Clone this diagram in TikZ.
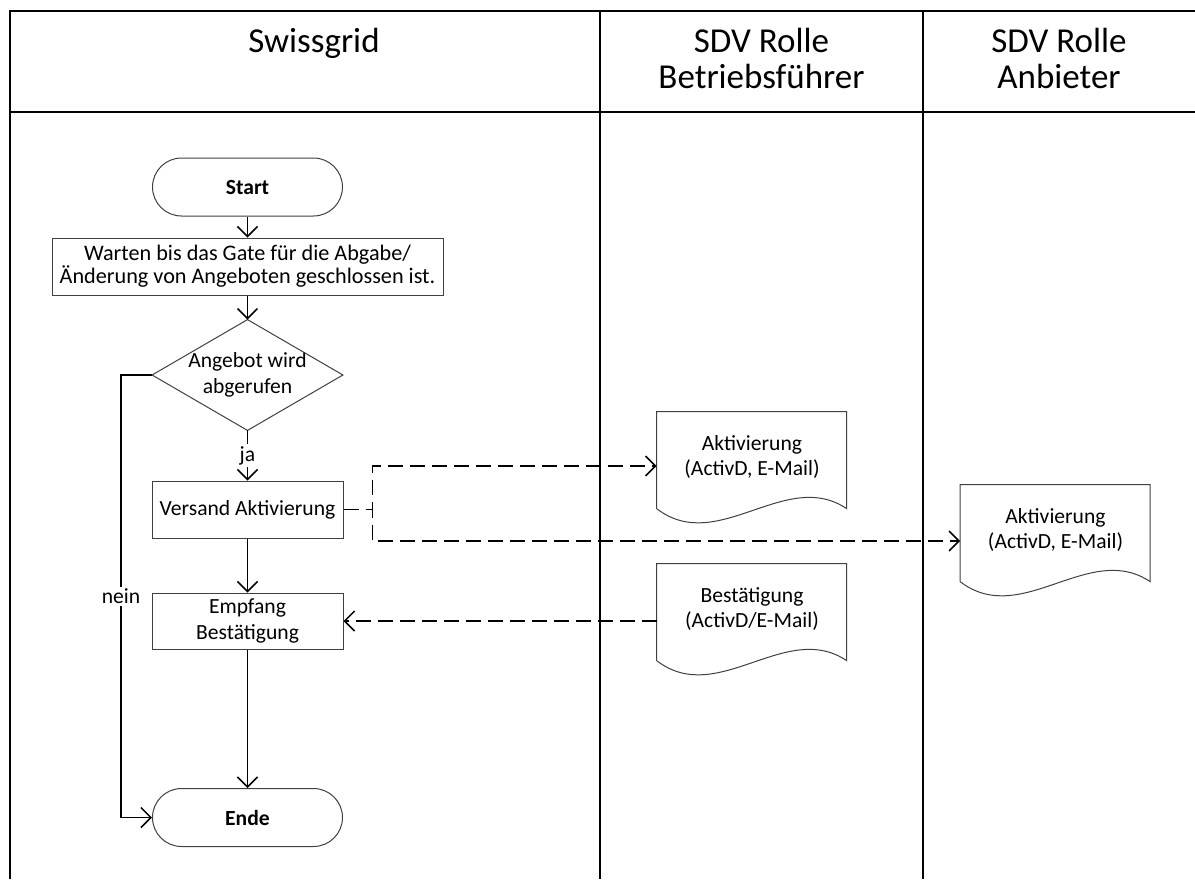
\documentclass[tikz,border=0pt]{standalone}
\usepackage{fontspec}
\setmainfont{Carlito}
\usetikzlibrary{arrows.meta,calc}
\begin{document}
\begin{tikzpicture}[x=0.5pt,y=-0.5pt,
  bodyfont/.style={font=\fontsize{10.8}{12.8}\selectfont},
  shapeline/.style={draw=black!75, line width=0.5pt},
  box/.style={shapeline, bodyfont, minimum width=95.5pt, minimum height=28.5pt, inner sep=1pt, align=center},
  term/.style={box, rounded corners=14.5pt, minimum width=95pt, minimum height=29pt, font=\fontsize{10.8}{12.8}\selectfont\bfseries},
  dia/.style={bodyfont, minimum width=95pt, minimum height=55pt, inner sep=0pt, align=center},
  doc/.style={bodyfont, minimum width=95pt, minimum height=45pt, inner sep=0pt, align=center},
  head/.style={font=\fontsize{17.5}{18}\selectfont, inner sep=0pt, anchor=base},
  tab/.style={line width=1pt, black},
  conn/.style={line width=0.75pt, black, -{Straight Barb[length=5pt,width=10pt]}},
  dconn/.style={conn, dash pattern=on 7.5pt off 3.5pt},
  lab/.style={bodyfont, fill=white, inner sep=1pt},
  docoutline/.style={shapeline}
]
\useasboundingbox (0,0) rectangle (1195,879);
% table
\draw[tab] (10,879) -- (10,11) -- (1195,11);
\draw[tab] (10,112) -- (1195,112);
\draw[tab] (600,11) -- (600,879);
\draw[tab] (923,11) -- (923,879);
% headers
\node[head] (hsg) at (314,52) {Swissgrid};
\node[head] (hbf1) at (761.5,52) {SDV Rolle};
\node[head] (hbf2) at (761.5,88) {Betriebsführer};
\node[head] (han1) at (1059,52) {SDV Rolle};
\node[head] (han2) at (1059,88) {Anbieter};
% flow nodes
\node[term] (start) at (247.5,187) {Start};
\node[box, minimum width=195.5pt, font=\fontsize{11.1}{11.6}\selectfont] (wait) at (247.5,266.5) {Warten bis das Gate für die Abgabe/\\Änderung von Angeboten geschlossen ist.};
\node[dia] (dec) at (247.5,375) {Angebot wird\\abgerufen};
\draw[shapeline] (dec.north) -- (dec.east) -- (dec.south) -- (dec.west) -- cycle;
\node[box] (send) at (247.5,509.5) {Versand Aktivierung};
\node[box, minimum height=28pt] (recv) at (247.5,621) {Empfang\\Bestätigung};
\node[term] (end) at (247.5,817.5) {Ende};
% documents
\node[doc] (d1) at (752,457) {Aktivierung\\(ActivD, E-Mail)};
\node[doc] (d2) at (1055.5,530) {Aktivierung\\(ActivD, E-Mail)};
\node[doc] (d3) at (752,609) {Bestätigung\\(ActivD/E-Mail)};
\foreach \d in {d1,d2,d3}{
  \draw[docoutline, shift={(\d.north west)}] (0,97) -- (0,0) -- (190,0) -- (190,97) .. controls (129,56) and (61,144) .. (0,97);
}
% connectors
\draw[conn] (start.south) -- (wait.north);
\draw[conn] (wait.south) -- (dec.north);
\draw[conn] (dec.south) -- node[lab] {ja} (send.north);
\draw[conn] (send.south) -- (recv.north);
\draw[conn] (recv.south) -- (end.north);
\draw[conn] (dec.west) -- ($(dec.west)+(-31,0)$) |- node[lab, pos=0.25] {nein} (end.west);
\coordinate (br) at ($(send.east)+(29,0)$);
\draw[dconn] (send.east) -- (br) |- ([yshift=-4.5pt]d1.west);
\draw[dconn] (send.east) -- (br) |- ([yshift=-5.5pt]d2.west);
\draw[dconn] (recv.east -| d3.west) -- (recv.east);
\end{tikzpicture}
\end{document}
